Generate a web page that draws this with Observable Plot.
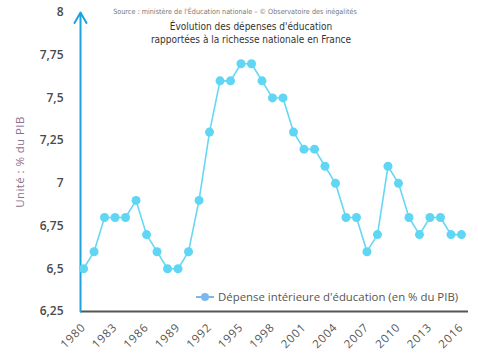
<!DOCTYPE html>
<html><head><meta charset="utf-8">
<script src="https://cdn.jsdelivr.net/npm/d3@7"></script>
<script src="https://cdn.jsdelivr.net/npm/@observablehq/plot@0.6"></script>
<style>
body{margin:0;background:#fff;}
#c{position:relative;width:478px;height:359px;overflow:hidden;background:#fff;}
#c > svg{position:absolute;left:0;top:0;}
.src{position:absolute;left:0;width:478px;top:7px;text-align:center;font:7.2px "Liberation Sans Narrow","DejaVu Sans Condensed",sans-serif;color:#777;}
.src span{position:relative;left:-4px;}
.ttl{position:absolute;left:0;width:478px;top:21px;text-align:center;font:10px/12.5px "Liberation Sans Narrow","DejaVu Sans Condensed",sans-serif;color:#333;}
.ttl span{position:relative;left:12px;}
.ylab{position:absolute;left:19px;top:162px;transform:translate(-50%,-50%) rotate(-90deg);transform-origin:center;white-space:nowrap;font:11.5px "Open Sans",sans-serif;color:#8d6f8d;letter-spacing:0.4px;}
.leg{position:absolute;left:196px;top:289px;white-space:nowrap;font:11.4px "Open Sans",sans-serif;color:#555;display:flex;align-items:center;}
.leg svg{margin-right:4px;}
.xt text{letter-spacing:0.8px;}
</style></head><body><div id="c"></div>
<script>
const years = [1980,1981,1982,1983,1984,1985,1986,1987,1988,1989,1990,1991,1992,1993,1994,1995,1996,1997,1998,1999,2000,2001,2002,2003,2004,2005,2006,2007,2008,2009,2010,2011,2012,2013,2014,2015,2016];
const values = [6.5,6.6,6.8,6.8,6.8,6.9,6.7,6.6,6.5,6.5,6.6,6.9,7.3,7.6,7.6,7.7,7.7,7.6,7.5,7.5,7.3,7.2,7.2,7.1,7.0,6.8,6.8,6.6,6.7,7.1,7.0,6.8,6.7,6.8,6.8,6.7,6.7];
const yTicks = [6.25,6.5,6.75,7,7.25,7.5,7.75,8];
const xTicks = [1980,1983,1986,1989,1992,1995,1998,2001,2004,2007,2010,2013,2016];
const sourceText = "Source : ministère de l'Éducation nationale – © Observatoire des inégalités";
const titleLines = ["Évolution des dépenses d'éducation","rapportées à la richesse nationale en France"];
const yLabel = "Unité : % du PIB";
const seriesName = "Dépense intérieure d'éducation (en % du PIB)";

const data = years.map((y,i)=>({year:y, value:values[i]}));
const xDomain = [1979.71, 2016.67];
const yDomain = [6.25, 8];
const lineColor = "#66d8f3";
const dotColor = "#5fd6f4";
const axisBlue = "#1ea4dd";

const chart = Plot.plot({
  width: 478, height: 359,
  marginLeft: 80, marginRight: 10, marginTop: 12, marginBottom: 48,
  style: {fontFamily: "Open Sans, sans-serif", background: "transparent"},
  x: {domain: xDomain, ticks: xTicks, label: null},
  y: {domain: yDomain, ticks: yTicks, label: null},
  marks: [
    Plot.axisY({ticks: yTicks, tickSize: 0, tickPadding: 17, label: null,
      tickFormat: d => String(d).replace(".", ","), fontSize: 12, fontWeight: 600, fill: "#4a4a4a"}),
    Plot.axisX({ticks: xTicks, tickSize: 0, tickPadding: 14, tickRotate: -45, label: null, className: "xt",
      tickFormat: d => String(d), fontSize: 11.5, fill: "#555"}),
    Plot.ruleY([yDomain[0]], {stroke: "#555", strokeWidth: 2}),
    Plot.arrow([0], {x1: () => xDomain[0], x2: () => xDomain[0], y1: () => yDomain[0], y2: () => yDomain[1],
      stroke: axisBlue, strokeWidth: 2, headLength: 9, bend: 0}),
    Plot.line(data, {x: "year", y: "value", stroke: lineColor, strokeWidth: 1.6}),
    Plot.dot(data, {x: "year", y: "value", r: 4.5, fill: dotColor, stroke: null})
  ]
});

const c = document.getElementById("c");
c.appendChild(chart);

const src = document.createElement("div"); src.className = "src";
src.innerHTML = "<span></span>"; src.firstChild.textContent = sourceText; c.appendChild(src);
const ttl = document.createElement("div"); ttl.className = "ttl";
titleLines.forEach((t,i)=>{ const s=document.createElement("span"); s.textContent=t; ttl.appendChild(s); if(i<titleLines.length-1) ttl.appendChild(document.createElement("br")); });
c.appendChild(ttl);
const yl = document.createElement("div"); yl.className = "ylab"; yl.textContent = yLabel; c.appendChild(yl);
const leg = document.createElement("div"); leg.className = "leg";
leg.innerHTML = `<svg width="18" height="10"><line x1="0" y1="5" x2="18" y2="5" stroke="#7ab8ee" stroke-width="2"/><circle cx="9" cy="5" r="4" fill="#7ab8ee"/></svg><span></span>`;
leg.querySelector("span").textContent = seriesName;
c.appendChild(leg);
</script></body></html>
